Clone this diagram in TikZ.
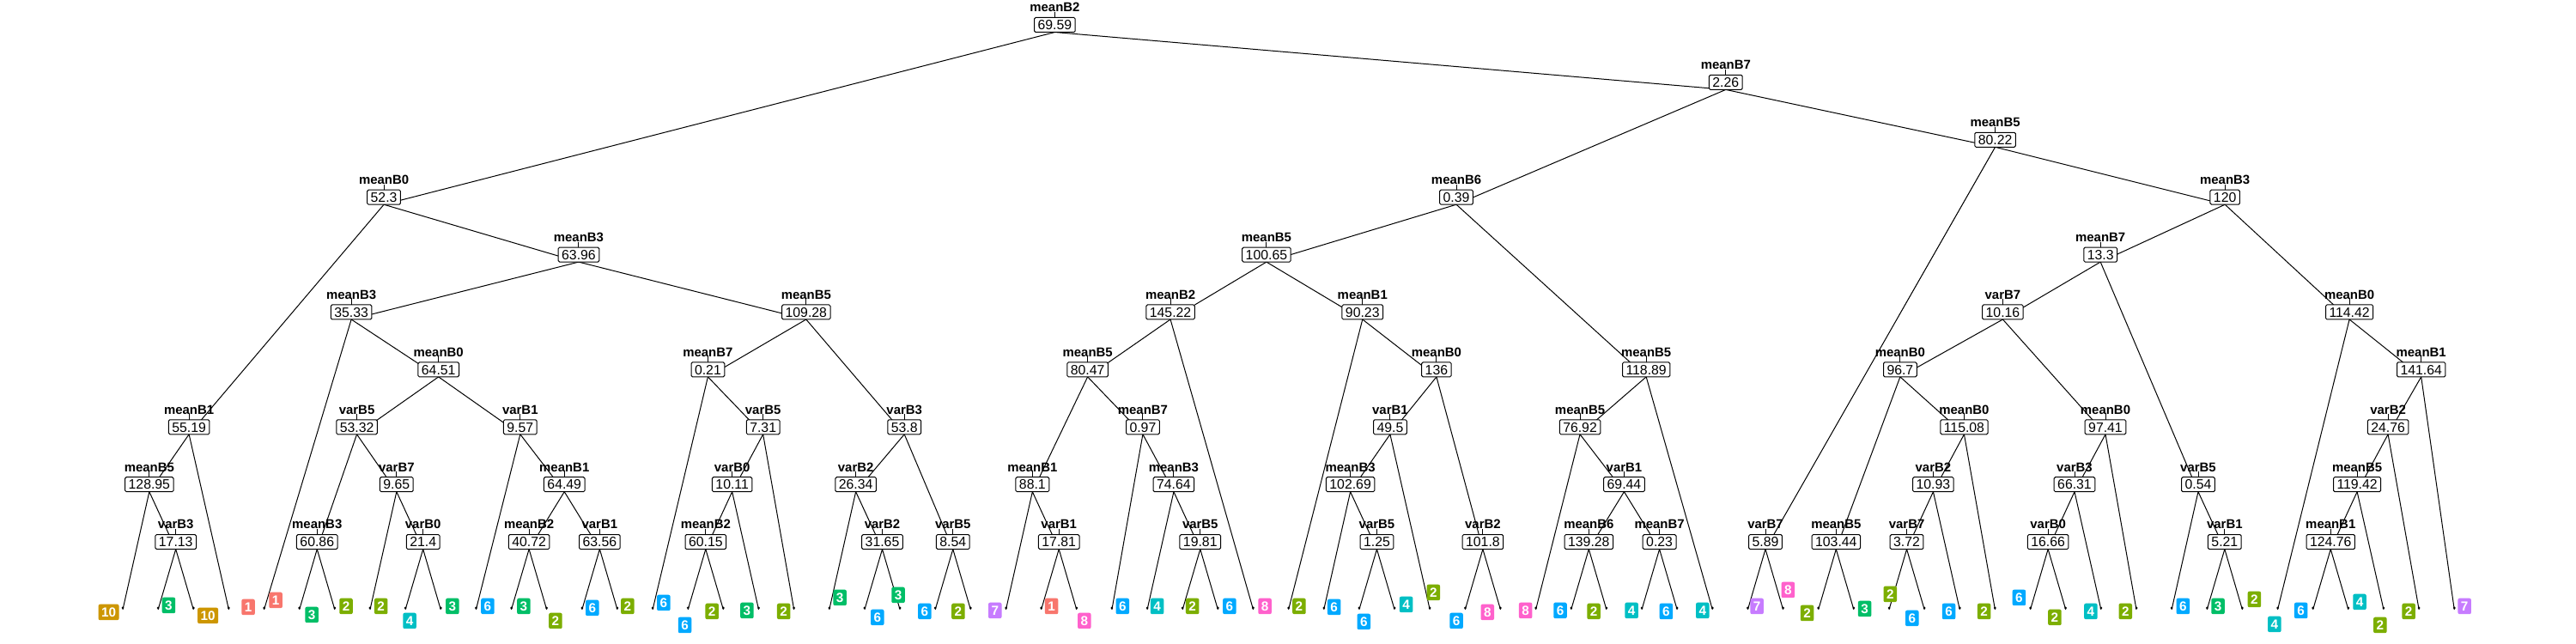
\documentclass[tikz,border=0pt]{standalone}
\usepackage{fontspec}
\setmainfont{Liberation Sans}
\usetikzlibrary{positioning}
\definecolor{c1}{HTML}{F8766D}
\definecolor{c10}{HTML}{CD9600}
\definecolor{c2}{HTML}{7CAE00}
\definecolor{c3}{HTML}{00BE67}
\definecolor{c4}{HTML}{00BFC4}
\definecolor{c6}{HTML}{00A9FF}
\definecolor{c7}{HTML}{C77CFF}
\definecolor{c8}{HTML}{FF61CC}
\pgfdeclarelayer{bg}
\pgfsetlayers{bg,main}
\tikzset{
	splitval/.style={draw, fill=white, rounded corners=0.3mm, line width=0.2mm, inner xsep=0.8mm, inner ysep=0.55mm, text height=2.3mm, text depth=0mm, outer sep=0pt, font=\fontsize{9}{9}\selectfont},
	splitvar/.style={inner sep=0pt, outer sep=0pt, font=\fontsize{8.5}{8.5}\selectfont\bfseries},
	tick/.style={line width=0.2mm},
	edge/.style={line width=0.2mm, line join=round},
	leafdot/.style={circle, fill=black, inner sep=0pt, minimum size=0.6mm},
	leafcls/.style={rounded corners=0.4mm, inner xsep=0.7mm, inner ysep=0.75mm, text height=2.2mm, text depth=0mm, text=white, font=\fontsize{8.7}{8.7}\selectfont\bfseries}
}
\newcommand{\splitnode}[5]{%
	\node[splitval] (#1) at (#2,#3) {#5};
	\node[splitvar, above=1.3mm of #1] (#1v) {#4};
	\draw[tick] (#1.north) -- (#1v.south);
}

\begin{document}
\begin{tikzpicture}[x=8.228mm, y=-0.2mm]
		%%%%% START %%%%%
		
		\begin{pgfonlayer}{bg}
			\path[use as bounding box, fill=white] (-2.476,0) rectangle (70.446,750);
		\end{pgfonlayer}
		
		\splitnode{n1}{27.384}{29}{meanB2}{69.59}
		\splitnode{n2}{8.391}{229.7}{meanB0}{52.3}
		\splitnode{n3}{2.875}{497.3}{meanB1}{55.19}
		\splitnode{n4}{1.75}{564.2}{meanB5}{128.95}
		\splitnode{n5}{2.5}{631.1}{varB3}{17.13}
		\splitnode{n6}{13.906}{296.6}{meanB3}{63.96}
		\splitnode{n7}{7.469}{363.5}{meanB3}{35.33}
		\splitnode{n8}{9.938}{430.4}{meanB0}{64.51}
		\splitnode{n9}{7.625}{497.3}{varB5}{53.32}
		\splitnode{n10}{6.5}{631.1}{meanB3}{60.86}
		\splitnode{n11}{8.75}{564.2}{varB7}{9.65}
		\splitnode{n12}{9.5}{631.1}{varB0}{21.4}
		\splitnode{n13}{12.25}{497.3}{varB1}{9.57}
		\splitnode{n14}{13.5}{564.2}{meanB1}{64.49}
		\splitnode{n15}{12.5}{631.1}{meanB2}{40.72}
		\splitnode{n16}{14.5}{631.1}{varB1}{63.56}
		\splitnode{n17}{20.344}{363.5}{meanB5}{109.28}
		\splitnode{n18}{17.563}{430.4}{meanB7}{0.21}
		\splitnode{n19}{19.125}{497.3}{varB5}{7.31}
		\splitnode{n20}{18.25}{564.2}{varB0}{10.11}
		\splitnode{n21}{17.5}{631.1}{meanB2}{60.15}
		\splitnode{n22}{23.125}{497.3}{varB3}{53.8}
		\splitnode{n23}{21.75}{564.2}{varB2}{26.34}
		\splitnode{n24}{22.5}{631.1}{varB2}{31.65}
		\splitnode{n25}{24.5}{631.1}{varB5}{8.54}
		
		\splitnode{n26}{46.377}{95.9}{meanB7}{2.26}
		\splitnode{n27}{38.75}{229.7}{meanB6}{0.39}
		\splitnode{n28}{33.375}{296.6}{meanB5}{100.65}
		\splitnode{n29}{30.656}{363.5}{meanB2}{145.22}
		\splitnode{n30}{28.313}{430.4}{meanB5}{80.47}
		\splitnode{n31}{26.75}{564.2}{meanB1}{88.1}
		\splitnode{n32}{27.5}{631.1}{varB1}{17.81}
		\splitnode{n33}{29.875}{497.3}{meanB7}{0.97}
		\splitnode{n34}{30.75}{564.2}{meanB3}{74.64}
		\splitnode{n35}{31.5}{631.1}{varB5}{19.81}
		\splitnode{n36}{36.094}{363.5}{meanB1}{90.23}
		\splitnode{n37}{38.188}{430.4}{meanB0}{136}
		\splitnode{n38}{36.875}{497.3}{varB1}{49.5}
		\splitnode{n39}{35.75}{564.2}{meanB3}{102.69}
		\splitnode{n40}{36.5}{631.1}{varB5}{1.25}
		\splitnode{n41}{39.5}{631.1}{varB2}{101.8}
		\splitnode{n42}{44.125}{430.4}{meanB5}{118.89}
		\splitnode{n43}{42.25}{497.3}{meanB5}{76.92}
		\splitnode{n44}{43.5}{564.2}{varB1}{69.44}
		\splitnode{n45}{42.5}{631.1}{meanB6}{139.28}
		\splitnode{n46}{44.5}{631.1}{meanB7}{0.23}
		
		\splitnode{n47}{54.004}{162.8}{meanB5}{80.22}
		\splitnode{n48}{47.5}{631.1}{varB7}{5.89}
		\splitnode{n49}{60.508}{229.7}{meanB3}{120}
		\splitnode{n50}{56.984}{296.6}{meanB7}{13.3}
		\splitnode{n51}{54.219}{363.5}{varB7}{10.16}
		\splitnode{n52}{51.313}{430.4}{meanB0}{96.7}
		\splitnode{n53}{49.5}{631.1}{meanB5}{103.44}
		\splitnode{n54}{53.125}{497.3}{meanB0}{115.08}
		\splitnode{n55}{52.25}{564.2}{varB2}{10.93}
		\splitnode{n56}{51.5}{631.1}{varB7}{3.72}
		\splitnode{n57}{57.125}{497.3}{meanB0}{97.41}
		\splitnode{n58}{56.25}{564.2}{varB3}{66.31}
		\splitnode{n59}{55.5}{631.1}{varB0}{16.66}
		\splitnode{n60}{59.75}{564.2}{varB5}{0.54}
		\splitnode{n61}{60.5}{631.1}{varB1}{5.21}
		\splitnode{n62}{64.031}{363.5}{meanB0}{114.42}
		\splitnode{n63}{66.063}{430.4}{meanB1}{141.64}
		\splitnode{n64}{65.125}{497.3}{varB2}{24.76}
		\splitnode{n65}{64.25}{564.2}{meanB5}{119.42}
		\splitnode{n66}{63.5}{631.1}{meanB1}{124.76}
		
		% leaves: index / class / label shift / label height
		\foreach \i/\cl/\dx/\ly in {1/10/-0.40/713, 2/3/0.30/705, 3/10/0.41/717, 4/1/0.55/707, 5/1/0.33/699,
			6/3/0.35/716, 7/2/0.32/706, 8/2/0.31/706, 9/4/0.12/723, 10/3/0.33/706,
			11/6/0.33/706, 12/3/0.35/706, 13/2/0.25/723, 14/6/0.29/708, 15/2/0.29/706,
			16/6/0.31/702, 17/6/-0.09/728, 18/2/-0.32/712, 19/3/-0.33/711, 20/2/-0.29/712,
			21/3/0.30/696, 22/6/0.36/719, 23/3/-0.05/693, 24/6/-0.30/712, 25/2/-0.35/712,
			26/7/-0.31/711, 27/1/0.29/706, 28/8/0.22/723, 29/6/0.30/706, 30/4/0.28/706,
			31/2/0.28/706, 32/6/0.33/706, 33/8/0.33/706, 34/2/0.30/706, 35/6/0.29/707,
			36/6/0.13/724, 37/4/0.33/704, 38/2/0.10/690, 39/6/-0.25/723, 40/8/-0.37/713,
			41/8/-0.29/711, 42/6/-0.31/711, 43/2/-0.36/712, 44/4/-0.29/711, 45/6/-0.31/712,
			46/4/-0.28/711, 47/7/0.26/706, 48/8/0.14/687, 49/2/-0.32/714, 50/3/0.31/709,
			51/2/0.03/692, 52/6/-0.35/720, 53/6/-0.31/712, 54/2/-0.31/712, 55/6/-0.32/696,
			56/2/-0.31/719, 57/4/-0.29/712, 58/2/-0.31/712, 59/6/0.32/706, 60/3/0.31/706,
			61/2/0.34/698, 62/4/-0.09/727, 63/6/-0.34/711, 64/4/0.32/701, 65/2/-0.10/728,
			66/2/-0.29/712, 67/7/0.29/706}{
			\node[leafdot] (t\i) at (\i,708) {};
			\node[leafcls, fill=c\cl] (c\i) at (\i+\dx,\ly) {\cl};
		}
		
		% edges: parent / left child / right child
		\begin{pgfonlayer}{bg}
			\foreach \p/\a/\b in {n1/n2/n26, n2/n3/n6, n3/n4/t4, n4/t1/n5, n5/t2/t3, n6/n7/n17,
				n7/t5/n8, n8/n9/n13, n9/n10/n11, n10/t6/t7, n11/t8/n12, n12/t9/t10,
				n13/t11/n14, n14/n15/n16, n15/t12/t13, n16/t14/t15, n17/n18/n22, n18/t16/n19,
				n19/n20/t20, n20/n21/t19, n21/t17/t18, n22/n23/n25, n23/t21/n24, n24/t22/t23,
				n25/t24/t25, n26/n27/n47, n27/n28/n42, n28/n29/n36, n29/n30/t33, n30/n31/n33,
				n31/t26/n32, n32/t27/t28, n33/t29/n34, n34/t30/n35, n35/t31/t32, n36/t34/n37,
				n37/n38/n41, n38/n39/t38, n39/t35/n40, n40/t36/t37, n41/t39/t40, n42/n43/t46,
				n43/t41/n44, n44/n45/n46, n45/t42/t43, n46/t44/t45, n47/n48/n49, n48/t47/t48,
				n49/n50/n62, n50/n51/n60, n51/n52/n57, n52/n53/n54, n53/t49/t50, n54/n55/t54,
				n55/n56/t53, n56/t51/t52, n57/n58/t58, n58/n59/t57, n59/t55/t56, n60/t59/n61,
				n61/t60/t61, n62/t62/n63, n63/n64/t67, n64/n65/t66, n65/n66/t65, n66/t63/t64}
				\draw[edge] (\a.south) -- (\p.south) -- (\b.south);
		\end{pgfonlayer}
		
		%%%%% END %%%%%
\end{tikzpicture}
\end{document}
